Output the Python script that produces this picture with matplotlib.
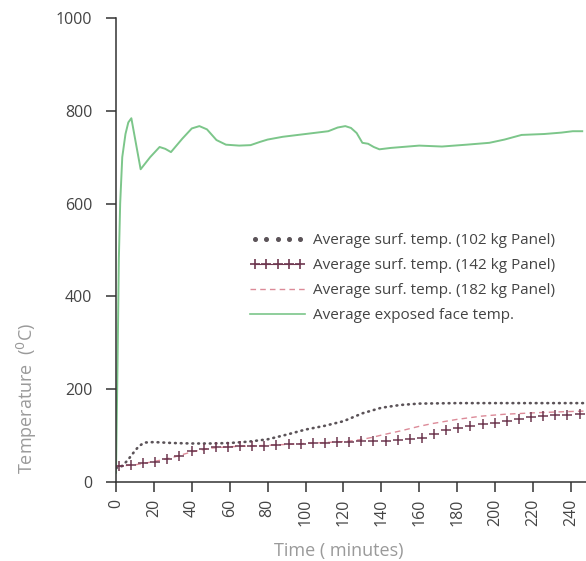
import numpy as np
import matplotlib
matplotlib.use('Agg')
from matplotlib import pyplot as plt
from matplotlib.lines import Line2D
from matplotlib.legend_handler import HandlerLine2D

plt.rcParams['font.family'] = ['Open Sans', 'DejaVu Sans']

# exposed face temperature (green)
t_face = [0, 0.8, 1.5, 2.2, 3.3, 5, 6.5, 8.1, 10.5, 13, 18, 23, 26, 29, 35, 40, 44, 48,
          53, 58, 65, 71, 76, 80, 88, 100, 112, 117, 121, 124, 127, 130, 133, 136, 139,
          145, 160, 172, 185, 197, 205, 214, 220, 226, 235, 241, 246]
temp_face = [20, 250, 480, 600, 700, 750, 775, 784, 730, 674, 700, 722, 718, 711, 740, 762,
             767, 760, 737, 727, 725, 726, 733, 738, 744, 750, 756, 764, 767, 763, 752, 731,
             729, 722, 717, 720, 725, 723, 727, 731, 738, 748, 749, 750, 753, 756, 756]

# 102 kg panel (dotted)
t_102 = [0, 3, 6, 9, 12, 15, 20, 30, 40, 50, 60, 70, 80, 90, 100, 110, 120, 130, 140,
         150, 160, 180, 200, 220, 248]
temp_102 = [30, 34, 46, 62, 77, 85, 86, 84, 83, 83, 84, 87, 92, 102, 113, 121, 131, 148,
            160, 166, 169, 170, 170, 170, 170]

# 142 kg panel (plus markers)
t_142 = np.linspace(1.5, 244.6, 39)
temp_142 = [34, 36, 40, 44, 50, 57, 66, 72, 75, 76, 77, 77, 78, 80, 81, 82, 84, 85, 86, 87,
            88, 88, 89, 90, 92, 95, 103, 112, 117, 120, 124, 128, 132, 136, 140, 142, 144,
            145, 146]

# 182 kg panel (dashed)
t_182 = [0, 10, 20, 30, 40, 50, 60, 80, 100, 110, 120, 125, 130, 135, 140, 150, 160, 167,
         180, 193, 205, 220, 233, 248]
temp_182 = [34, 37, 44, 53, 65, 73, 76, 79, 83, 85, 87, 89, 92, 96, 101, 110, 120, 126,
            135, 142, 146, 149, 151, 153]

xticks = list(range(0, 241, 20))
yticks = [0, 200, 400, 600, 800, 1000]

c_face = '#7cc68a'
c_102 = '#5b5358'
c_142 = '#6e3850'
c_182 = '#dc8a98'

fig = plt.figure(figsize=(5.86, 5.61), dpi=100)
ax = fig.add_axes([116 / 586, 1 - 482 / 561, 1 - 116 / 586, (482 - 18) / 561])

ax.plot(t_face, temp_face, color=c_face, lw=1.4)
ax.plot(t_182, temp_182, color=c_182, lw=1.0, ls=(0, (4, 3)))
ax.plot(t_102, temp_102, color=c_102, lw=1.9, ls=(0, (0.3, 1.9)), dash_capstyle='round')
ax.plot(t_142, temp_142, color=c_142, ls='none', marker='+', ms=6.5, mew=1.1)

ax.set_xlim(0, 248)
ax.set_ylim(0, 1000)
ax.set_xticks(xticks)
ax.set_yticks(yticks)
ax.set_xticklabels([str(x) for x in xticks], rotation=90)
ax.tick_params(direction='out', length=7, width=1.1, colors='#333333',
               labelcolor='#444444', labelsize=11.5, pad=5)
ax.tick_params(axis='y', pad=10)

for s in ['top', 'right']:
    ax.spines[s].set_visible(False)
for s in ['left', 'bottom']:
    ax.spines[s].set_color('#333333')
    ax.spines[s].set_linewidth(1.1)

ax.set_ylabel('Temperature  ($^0$C)', color='#9a9a9a', fontsize=13)
ax.yaxis.set_label_coords(-77 / 470, 0.18)
ax.set_xlabel('Time ( minutes)', color='#9a9a9a', fontsize=13)
ax.xaxis.set_label_coords((339 - 116) / 470, -60 / 464)

handles = [
    Line2D([], [], ls='none', marker='o', ms=2.6, color=c_102),
    Line2D([], [], ls='-', lw=0.8, marker='+', ms=7, mew=1.2, color=c_142),
    Line2D([], [], ls=(0, (4, 3)), lw=1.0, color=c_182),
    Line2D([], [], ls='-', lw=1.2, color=c_face),
]
labels = ['Average surf. temp. (102 kg Panel)',
          'Average surf. temp. (142 kg Panel)',
          'Average surf. temp. (182 kg Panel)',
          'Average exposed face temp.']
leg = fig.legend(handles, labels, loc='upper left',
                 bbox_to_anchor=(250 / 586, 1 - 233 / 561),
                 frameon=False, fontsize=11, handlelength=3.6, handletextpad=0.5,
                 labelspacing=0.66, borderpad=0, borderaxespad=0,
                 handler_map={handles[0]: HandlerLine2D(numpoints=5),
                              handles[1]: HandlerLine2D(numpoints=5)})
for txt in leg.get_texts():
    txt.set_color('#444444')

fig.savefig('out.png', dpi=100)
